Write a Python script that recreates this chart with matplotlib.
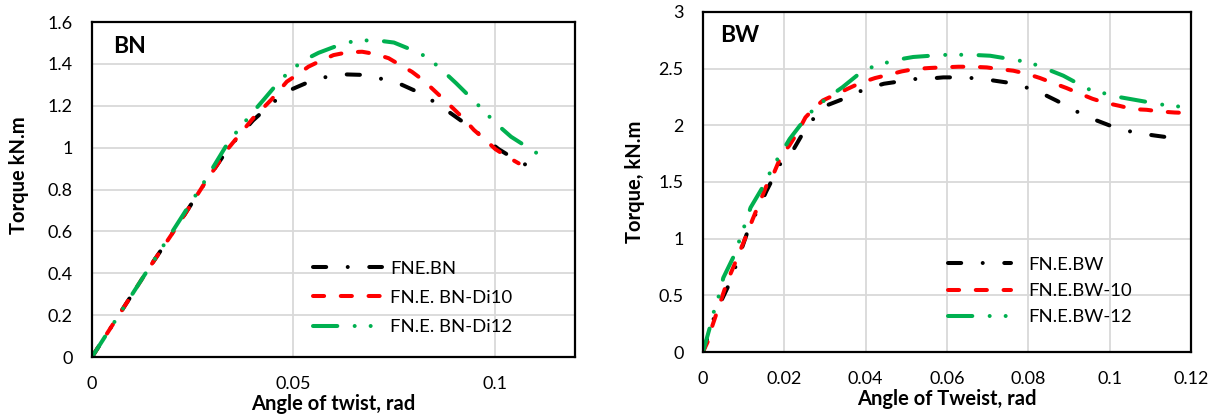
import matplotlib
matplotlib.use("Agg")
import matplotlib.pyplot as plt

plt.rcParams['font.family'] = ['Lato', 'DejaVu Sans']
plt.rcParams['lines.scale_dashes'] = False

# ---------------- BN panel data ----------------
bn_labels = ["FNE.BN", "FN.E. BN-Di10", "FN.E. BN-Di12"]
bn_black_x = [0, 0.007, 0.014, 0.021, 0.028, 0.034, 0.040, 0.0446, 0.0486, 0.0534, 0.0575, 0.0625,
              0.068, 0.072, 0.077, 0.0816, 0.0853, 0.0895, 0.0938, 0.0973, 0.101, 0.1057, 0.1098]
bn_black_y = [0, 0.21, 0.42, 0.62, 0.83, 1.0, 1.13, 1.21, 1.27, 1.31, 1.335, 1.35,
              1.347, 1.328, 1.30, 1.26, 1.215, 1.159, 1.10, 1.049, 0.993, 0.937, 0.90]
bn_red_x = [0, 0.007, 0.014, 0.021, 0.028, 0.034, 0.040, 0.0446, 0.0484, 0.0505, 0.0538, 0.0567,
            0.060, 0.0634, 0.0671, 0.0704, 0.0737, 0.0766, 0.0795, 0.0824, 0.0849, 0.0874, 0.0899,
            0.0924, 0.0949, 0.0973, 0.1002, 0.1031, 0.106]
bn_red_y = [0, 0.21, 0.42, 0.62, 0.83, 1.0, 1.14, 1.23, 1.315, 1.342, 1.387, 1.414,
            1.442, 1.455, 1.458, 1.447, 1.427, 1.394, 1.362, 1.32, 1.275, 1.23, 1.184,
            1.137, 1.084, 1.044, 0.993, 0.957, 0.925]
bn_green_x = [0, 0.007, 0.014, 0.021, 0.028, 0.034, 0.040, 0.0427, 0.0468, 0.0497, 0.0527, 0.0563,
              0.0629, 0.0668, 0.0708, 0.075, 0.0816, 0.0847, 0.0876, 0.0905, 0.0957, 0.0983,
              0.1012, 0.1041, 0.1102, 0.1138]
bn_green_y = [0, 0.21, 0.42, 0.63, 0.84, 1.03, 1.17, 1.23, 1.323, 1.374, 1.418, 1.453,
              1.501, 1.512, 1.512, 1.502, 1.45, 1.409, 1.359, 1.307, 1.208, 1.156,
              1.101, 1.052, 0.977, 0.947]
bn_xticks = [0, 0.05, 0.1]
bn_xticklabels = ["0", "0.05", "0.1"]
bn_yticks = [0, 0.2, 0.4, 0.6, 0.8, 1.0, 1.2, 1.4, 1.6]
bn_yticklabels = ["0", "0.2", "0.4", "0.6", "0.8", "1", "1.2", "1.4", "1.6"]

# ---------------- BW panel data ----------------
bw_labels = ["FN.E.BW", "FN.E.BW-10", "FN.E.BW-12"]
bw_black_x = [0, 0.0031, 0.0064, 0.0079, 0.0113, 0.0144, 0.0156, 0.0194, 0.0223, 0.0257, 0.03, 0.0343,
              0.0386, 0.0409, 0.0445, 0.0483, 0.0516, 0.0552, 0.0591, 0.0624, 0.0662, 0.0702, 0.073,
              0.0769, 0.0806, 0.0835, 0.087, 0.0904, 0.0931, 0.0968, 0.1002, 0.1033, 0.107, 0.1111,
              0.114, 0.118]
bw_black_y = [0, 0.345, 0.596, 0.743, 1.097, 1.324, 1.42, 1.687, 1.79, 2.0, 2.17, 2.23,
              2.30, 2.33, 2.367, 2.387, 2.408, 2.411, 2.423, 2.423, 2.417, 2.402, 2.387,
              2.367, 2.32, 2.279, 2.217, 2.152, 2.099, 2.043, 1.996, 1.96, 1.931, 1.91,
              1.896, 1.881]
bw_red_x = [0, 0.0012, 0.0021, 0.006, 0.0074, 0.0108, 0.0122, 0.0156, 0.0175, 0.0194, 0.0212, 0.0233,
            0.0252, 0.0276, 0.0295, 0.0329, 0.0386, 0.0423, 0.0456, 0.0489, 0.0521, 0.0558, 0.0587,
            0.0628, 0.0661, 0.0698, 0.0726, 0.0763, 0.0796, 0.0829, 0.0861, 0.0894, 0.0923, 0.0958,
            0.0988, 0.1024, 0.1057, 0.1091, 0.1124, 0.116, 0.12]
bw_red_y = [0, 0.094, 0.21, 0.625, 0.743, 1.04, 1.17, 1.466, 1.584, 1.746, 1.82, 1.94,
            2.07, 2.16, 2.22, 2.277, 2.373, 2.417, 2.446, 2.476, 2.497, 2.506, 2.511,
            2.517, 2.517, 2.511, 2.497, 2.482, 2.455, 2.417, 2.373, 2.329, 2.285, 2.234,
            2.2, 2.172, 2.143, 2.137, 2.122, 2.113, 2.108]
bw_green_x = [0, 0.0021, 0.0029, 0.004, 0.005, 0.0084, 0.0091, 0.0106, 0.0117, 0.0156, 0.017, 0.0192,
              0.0213, 0.0257, 0.0279, 0.0314, 0.0343, 0.0386, 0.0402, 0.0439, 0.0478, 0.0517,
              0.0587, 0.0625, 0.0666, 0.0706, 0.0775, 0.0811, 0.0849, 0.0886, 0.0947, 0.0984,
              0.1024, 0.1062, 0.1132, 0.117]
bw_green_y = [0, 0.27, 0.39, 0.507, 0.655, 0.906, 1.01, 1.15, 1.274, 1.51, 1.628, 1.752,
              1.879, 2.085, 2.165, 2.263, 2.336, 2.461, 2.497, 2.541, 2.579, 2.603,
              2.621, 2.623, 2.621, 2.614, 2.573, 2.544, 2.491, 2.438, 2.32, 2.285,
              2.249, 2.225, 2.181, 2.166]
bw_xticks = [0, 0.02, 0.04, 0.06, 0.08, 0.1, 0.12]
bw_xticklabels = ["0", "0.02", "0.04", "0.06", "0.08", "0.1", "0.12"]
bw_yticks = [0, 0.5, 1.0, 1.5, 2.0, 2.5, 3.0]
bw_yticklabels = ["0", "0.5", "1", "1.5", "2", "2.5", "3"]

# ---------------- styles ----------------
LW = 2.9
BLACK = "#000000"
RED = "#FF0000"
GREEN = "#00B050"
DASH_BLACK = (0, (9.5, 15.5, 0.01, 15.5))
DASH_RED = (0, (8.0, 12.0))
DASH_GREEN = (0, (17.5, 12.5, 0.01, 11.5, 0.01, 12.5))
TICK_FS = 13
LABEL_FS = 14.5
LEG_FS = 13.3

fig = plt.figure(figsize=(12.23, 4.16), dpi=100)
ax1 = fig.add_axes([0.0752, 0.1418, 0.3950, 0.8053])
ax2 = fig.add_axes([0.5748, 0.1538, 0.3990, 0.8174])


def style_axes(ax, xticks, xtl, yticks, ytl, xlim, ylim):
    ax.set_xlim(*xlim)
    ax.set_ylim(*ylim)
    ax.set_xticks(xticks)
    ax.set_xticklabels(xtl)
    ax.set_yticks(yticks)
    ax.set_yticklabels(ytl)
    ax.grid(True, color="#D9D9D9", linewidth=1.3)
    ax.set_axisbelow(True)
    ax.tick_params(axis='both', length=0, labelsize=TICK_FS, colors="#000000")
    ax.tick_params(axis='x', pad=14)
    ax.tick_params(axis='y', pad=14)
    for sp in ax.spines.values():
        sp.set_color("#000000")
        sp.set_linewidth(1.6)


def draw(ax, series, labels):
    for (x, y, c, ls), lab in zip(series, labels):
        ax.plot(x, y, color=c, linestyle=ls, linewidth=LW, label=lab,
                dash_capstyle='round', solid_capstyle='round')


draw(ax1, [(bn_black_x, bn_black_y, BLACK, DASH_BLACK),
           (bn_red_x, bn_red_y, RED, DASH_RED),
           (bn_green_x, bn_green_y, GREEN, DASH_GREEN)], bn_labels)
style_axes(ax1, bn_xticks, bn_xticklabels, bn_yticks, bn_yticklabels, (0, 0.12), (0, 1.6))
ax1.set_xlabel("Angle of twist, rad", fontsize=LABEL_FS, fontweight='bold', labelpad=1)
ax1.set_ylabel("Torque kN.m", fontsize=LABEL_FS, fontweight='bold')
ax1.yaxis.set_label_coords(-0.130, 0.543)
ax1.text(0.043, 0.927, "BN", transform=ax1.transAxes, fontsize=16.5, fontweight='bold',
         ha='left', va='center')
ax1.legend(loc='upper left', bbox_to_anchor=(0.458, 0.288), frameon=False, fontsize=LEG_FS,
           handlelength=3.75, handletextpad=0.4, labelspacing=0.72, borderpad=0, borderaxespad=0)

draw(ax2, [(bw_black_x, bw_black_y, BLACK, DASH_BLACK),
           (bw_red_x, bw_red_y, RED, DASH_RED),
           (bw_green_x, bw_green_y, GREEN, DASH_GREEN)], bw_labels)
style_axes(ax2, bw_xticks, bw_xticklabels, bw_yticks, bw_yticklabels, (0, 0.12), (0, 3.0))
ax2.set_xlabel("Angle of Tweist, rad", fontsize=LABEL_FS, fontweight='bold', labelpad=1)
ax2.set_ylabel("Torque, kN.m", fontsize=LABEL_FS, fontweight='bold')
ax2.yaxis.set_label_coords(-0.118, 0.5)
ax2.text(0.035, 0.931, "BW", transform=ax2.transAxes, fontsize=16.5, fontweight='bold',
         ha='left', va='center')
ax2.legend(loc='upper left', bbox_to_anchor=(0.502, 0.280), frameon=False, fontsize=LEG_FS,
           handlelength=3.4, handletextpad=0.95, labelspacing=0.56, borderpad=0, borderaxespad=0)

fig.savefig("out.png", dpi=100)
